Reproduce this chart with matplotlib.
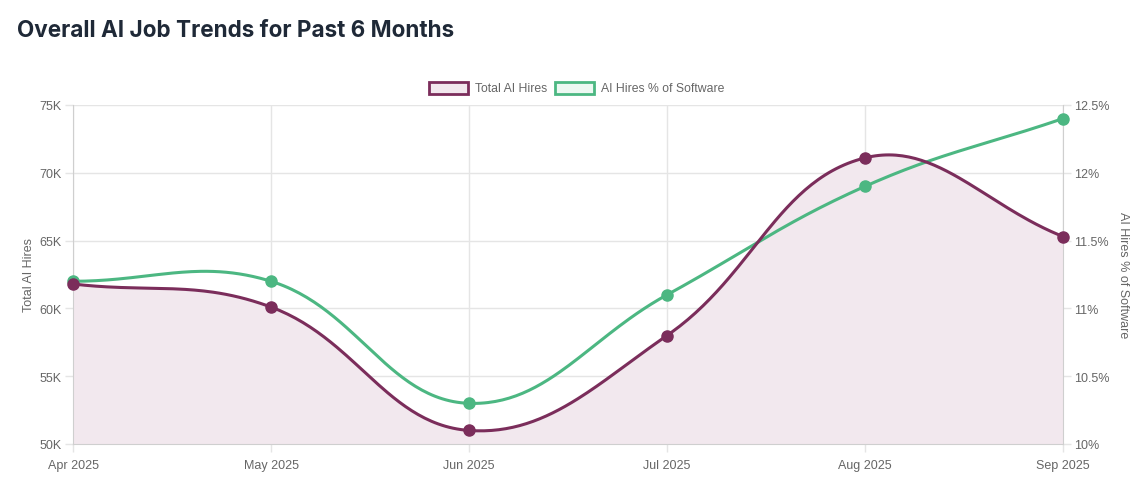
import matplotlib.pyplot as plt
import matplotlib as mpl
import numpy as np
from matplotlib.patches import Rectangle

# chart data
months = ["Apr 2025", "May 2025", "Jun 2025", "Jul 2025", "Aug 2025", "Sep 2025"]
total_hires = [61.8, 60.1, 51.0, 58.0, 71.1, 65.3]  # in thousands
ai_share = [11.2, 11.2, 10.3, 11.1, 11.9, 12.4]  # percent of software hires

left_ticks = [50, 55, 60, 65, 70, 75]
right_ticks = [10, 10.5, 11, 11.5, 12, 12.5]

W, H = 1146, 502
X0, X1, Y0, Y1 = 73, 1063, 106, 445  # plot area in pixels

purple = "#7b2d5b"
green = "#4cb782"
grid = "#e5e5e5"
text_grey = "#666666"

mpl.rc("font", family=["Liberation Sans", "DejaVu Sans"], size=9)


def spline(xs, ys, ymin, ymax, tension=0.4, n=60):
    """
    Chart.js style bezier through the points, computed in pixel space
    and returned in data units
    """
    px = X0 + (np.asarray(xs, float) - xs[0]) / (xs[-1] - xs[0]) * (X1 - X0)
    py = Y1 - (np.asarray(ys, float) - ymin) / (ymax - ymin) * (Y1 - Y0)
    pts = np.column_stack([px, py])
    npts = len(pts)
    prev_cp = np.zeros_like(pts)
    next_cp = np.zeros_like(pts)
    for i in range(npts):
        p0 = pts[i - 1] if i > 0 else pts[i]
        p1 = pts[i]
        p2 = pts[i + 1] if i < npts - 1 else pts[i]
        d01 = np.hypot(*(p1 - p0))
        d12 = np.hypot(*(p2 - p1))
        tot = d01 + d12
        s01 = d01 / tot if tot else 0
        s12 = d12 / tot if tot else 0
        prev_cp[i] = p1 - tension * s01 * (p2 - p0)
        next_cp[i] = p1 + tension * s12 * (p2 - p0)
    t = np.linspace(0, 1, n)[:, None]
    out = []
    for i in range(npts - 1):
        a, b, c, d = pts[i], next_cp[i], prev_cp[i + 1], pts[i + 1]
        seg = (1 - t) ** 3 * a + 3 * (1 - t) ** 2 * t * b + 3 * (1 - t) * t ** 2 * c + t ** 3 * d
        out.append(seg if i == 0 else seg[1:])
    out = np.vstack(out)
    # back to data units
    dx = xs[0] + (out[:, 0] - X0) / (X1 - X0) * (xs[-1] - xs[0])
    dy = ymin + (Y1 - out[:, 1]) / (Y1 - Y0) * (ymax - ymin)
    return dx, dy


fig = plt.figure(figsize=(W / 100, H / 100), dpi=100)
ax = fig.add_axes([X0 / W, 1 - Y1 / H, (X1 - X0) / W, (Y1 - Y0) / H])
ax2 = ax.twinx()

x = np.arange(len(months))

ax.set_xlim(0, len(months) - 1)
ax.set_ylim(50, 75)
ax2.set_ylim(10, 12.5)

# ai share of software (drawn below the hires line, as Chart.js does)
sx, sy = spline(x, ai_share, 10, 12.5)
ax2.plot(sx, sy, color=green, lw=2.2, zorder=2, solid_capstyle="round")
ax2.plot(x, ai_share, "o", color=green, ms=8, zorder=3, clip_on=False)

# total hires with fill; line and points go on ax2 so they sit on top
hx, hy = spline(x, total_hires, 50, 75)
ax.fill_between(hx, 50, hy, color="#f2e8ee", lw=0, zorder=1)
ax2.plot(hx, hy, color=purple, lw=2.2, zorder=4, solid_capstyle="round", transform=ax.transData)
ax2.plot(x, total_hires, "o", color=purple, ms=8, zorder=5, clip_on=False, transform=ax.transData)

ax.set_xticks(x)
ax.set_xticklabels(months)
ax.set_yticks(left_ticks)
ax.set_yticklabels(["%dK" % v for v in left_ticks])
ax2.set_yticks(right_ticks)
ax2.set_yticklabels([("%g%%" % v) for v in right_ticks])
ax2.set_ylim(10, 12.5)

ax.grid(True, color=grid, lw=1, zorder=0)
ax.set_axisbelow(True)
for a in (ax, ax2):
    for side in a.spines:
        a.spines[side].set_visible(False)
    a.tick_params(length=6, width=1, color=grid, labelcolor=text_grey, labelsize=9, pad=2)
ax.tick_params(axis="x", pad=5)
ax.spines["left"].set_visible(True)
ax.spines["left"].set_color("#cfcfcf")
ax.spines["bottom"].set_visible(True)
ax.spines["bottom"].set_color("#cfcfcf")
ax2.spines["right"].set_visible(True)
ax2.spines["right"].set_color("#cfcfcf")

ax.set_ylabel("Total AI Hires", color=text_grey, fontsize=9, labelpad=3)
ax2.set_ylabel("AI Hires % of Software", color=text_grey, fontsize=9, rotation=-90, labelpad=14)

# title
fig.text(17 / W, 1 - 31 / H, "Overall AI Job Trends for Past 6 Months", family="Inter",
         weight="bold", fontsize=16.2, color="#1f2937", va="center", ha="left")


# legend drawn by hand to mimic the Chart.js boxes
def legend_item(px, label, edge, face):
    fig.add_artist(Rectangle((px / W, 1 - 95 / H), 39 / W, 12 / H, transform=fig.transFigure,
                             facecolor=face, edgecolor=edge, lw=2))
    fig.text((px + 46) / W, 1 - 89 / H, label, color=text_grey, fontsize=8.8, va="center", ha="left")


legend_item(429, "Total AI Hires", purple, "#f2e8ee")
legend_item(555, "AI Hires % of Software", green, "#edf8f2")

fig.savefig("out.png", dpi=100)
